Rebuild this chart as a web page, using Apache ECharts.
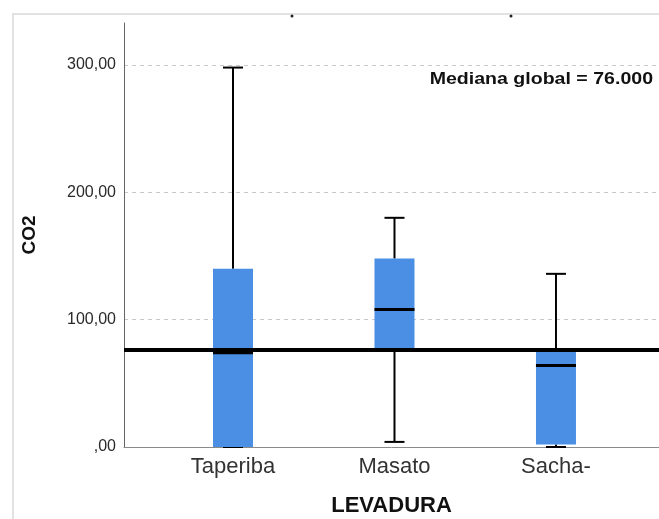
<!DOCTYPE html>
<html>
<head>
<meta charset="utf-8">
<script src="https://cdn.jsdelivr.net/npm/echarts@6/dist/echarts.min.js"></script>
<style>
html,body{margin:0;padding:0;background:#fff;}
#main{width:659px;height:519px;}
</style>
</head>
<body>
<div id="main"></div>
<script>
// ---- data ----
const categories = ['Taperiba', 'Masato', 'Sacha-'];
const whiskerMin = [0, 4, 0];
const q1 = [0, 77, 2];
const median = [74, 108, 64];
const q3 = [140, 148, 75];
const whiskerMax = [298, 180, 136];
const globalMedian = 76;
const yTicks = [0, 100, 200, 300];
const yMax = 333;
const medianLabel = 'Mediana global = 76.000';

const FONT = "'Liberation Sans', Arial, sans-serif";

const boxData = categories.map((c, i) => [i, whiskerMin[i], q1[i], median[i], q3[i], whiskerMax[i]]);

const chart = echarts.init(document.getElementById('main'), null, {renderer: 'canvas'});

function renderBox(params, api) {
  const x = api.value(0);
  const pMin = api.coord([x, api.value(1)]);
  const pQ1 = api.coord([x, api.value(2)]);
  const pMed = api.coord([x, api.value(3)]);
  const pQ3 = api.coord([x, api.value(4)]);
  const pMax = api.coord([x, api.value(5)]);
  const cx = pMed[0];
  const bw = 40, cw = 20;
  const lineStyle = {stroke: '#000', lineWidth: 2};
  return {
    type: 'group',
    children: [
      {type: 'line', shape: {x1: cx, y1: pQ3[1], x2: cx, y2: pMax[1]}, style: lineStyle},
      {type: 'line', shape: {x1: cx - cw / 2, y1: pMax[1], x2: cx + cw / 2, y2: pMax[1]}, style: lineStyle},
      {type: 'line', shape: {x1: cx, y1: pQ1[1], x2: cx, y2: pMin[1]}, style: lineStyle},
      {type: 'line', shape: {x1: cx - cw / 2, y1: pMin[1], x2: cx + cw / 2, y2: pMin[1]}, style: lineStyle},
      {type: 'rect', shape: {x: cx - bw / 2, y: pQ3[1], width: bw, height: pQ1[1] - pQ3[1]}, style: {fill: '#4A8FE3'}},
      {type: 'line', shape: {x1: cx - bw / 2, y1: pMed[1], x2: cx + bw / 2, y2: pMed[1]}, style: {stroke: '#000', lineWidth: 3}}
    ]
  };
}

const option = {
  backgroundColor: '#fff',
  animation: false,
  grid: {left: 124, right: 0, top: 23, bottom: 72, containLabel: false, outerBoundsMode: 'none'},
  xAxis: {
    type: 'value',
    min: -0.675,
    max: 2.638,
    name: 'LEVADURA',
    nameLocation: 'middle',
    nameGap: 48,
    nameTextStyle: {fontFamily: FONT, fontWeight: 'bold', fontSize: 22, color: '#111'},
    axisLine: {show: true, onZero: false, lineStyle: {color: '#8a8a8a', width: 1}},
    axisTick: {show: false},
    splitLine: {show: false},
    axisLabel: {
      customValues: categories.map((c, i) => i),
      formatter: v => categories[Math.round(v)] || '',
      fontFamily: FONT, fontSize: 22, color: '#333', margin: 9
    }
  },
  yAxis: {
    type: 'value',
    min: 0,
    max: yMax,
    interval: 100,
    name: 'CO2',
    nameLocation: 'middle',
    nameGap: 85,
    nameRotate: 90,
    nameTextStyle: {fontFamily: FONT, fontWeight: 'bold', fontSize: 19, color: '#111'},
    axisLine: {show: true, onZero: false, lineStyle: {color: '#666', width: 1}},
    axisTick: {show: false},
    splitLine: {show: true, showMaxLine: false, showMinLine: false, lineStyle: {color: '#c8c8c8', type: [4, 4], width: 1}},
    axisLabel: {
      fontFamily: FONT, fontSize: 16, color: '#2a2a2a', margin: 8,
      formatter: v => yTicks.indexOf(v) < 0 ? '' : (v === 0 ? ',00' : v + ',00')
    }
  },
  graphic: [
    {type: 'line', shape: {x1: 13, y1: 14, x2: 13, y2: 519}, style: {stroke: '#e2e2e2', lineWidth: 2}, silent: true},
    {type: 'line', shape: {x1: 12, y1: 14, x2: 659, y2: 14}, style: {stroke: '#e2e2e2', lineWidth: 2}, silent: true},
    {type: 'circle', shape: {cx: 292, cy: 16, r: 1.5}, style: {fill: '#222'}, silent: true},
    {type: 'circle', shape: {cx: 511, cy: 16, r: 1.5}, style: {fill: '#222'}, silent: true},
    {type: 'text', x: 653, y: 79, scaleX: 1.15, z: 100,
      style: {text: medianLabel, font: 'bold 17px ' + FONT, fill: '#111', textAlign: 'right', textVerticalAlign: 'middle'}}
  ],
  series: [
    {
      type: 'custom',
      renderItem: renderBox,
      data: boxData,
      encode: {x: 0, y: [1, 2, 3, 4, 5]},
      clip: false,
      z: 2,
      markLine: {
        silent: true,
        symbol: ['none', 'none'],
        label: {show: false},
        lineStyle: {color: '#000', width: 4, type: 'solid'},
        data: [{yAxis: globalMedian}],
        z: 5
      }
    }
  ]
};

chart.setOption(option);
</script>
</body>
</html>
